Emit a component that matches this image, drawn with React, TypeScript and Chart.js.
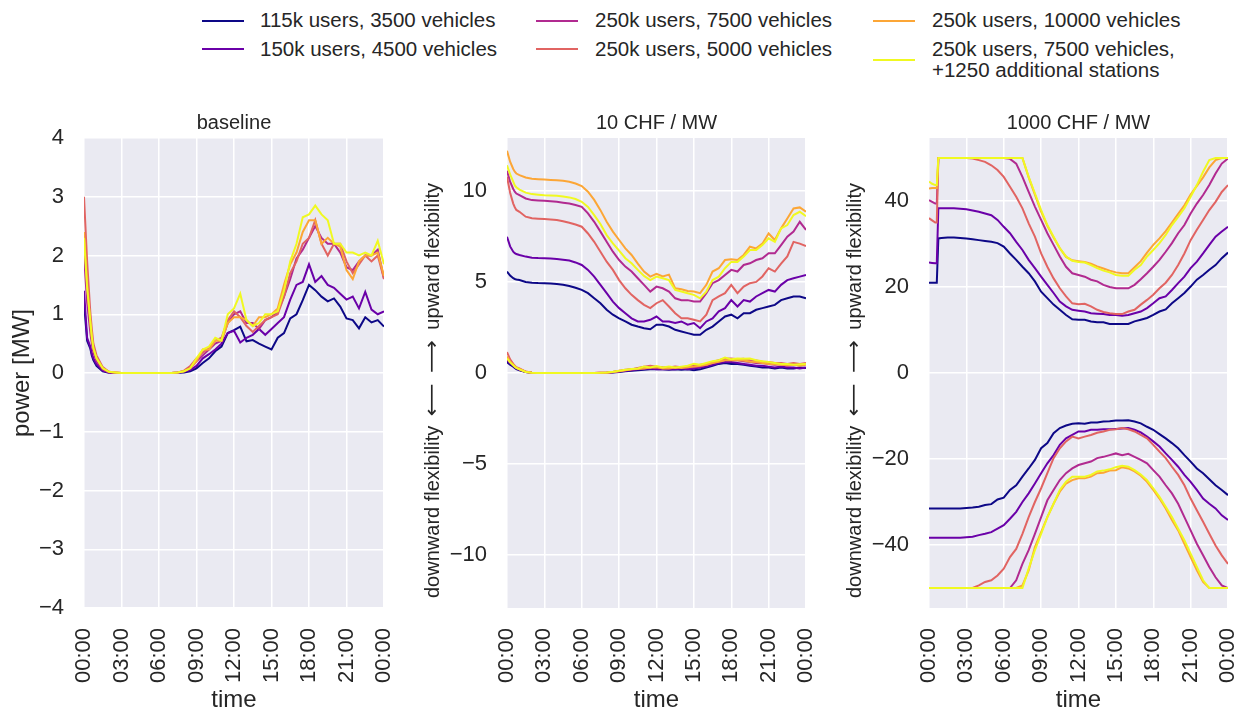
import React, { useEffect, useRef } from 'react';
import { Chart, registerables } from 'chart.js';

Chart.register(...registerables);

const FONT = '"Liberation Sans", Arial, Helvetica, sans-serif';
const ARROW_FONT = '"DejaVu Sans", sans-serif';
const TEXT = '#262626';

// ---------- data ----------
const HOURS = [0, 0.25, 0.5, 0.625, 0.75, 1,
  1.5, 2, 2.5, 3, 3.5, 4, 4.5, 5, 5.5, 6,
  6.5, 7, 7.5, 8, 8.5, 9, 9.5, 10, 10.5, 11,
  11.5, 12, 12.5, 13, 13.5, 14, 14.5, 15, 15.5, 16,
  16.5, 17, 17.5, 18, 18.5, 19, 19.5, 20, 20.5, 21,
  21.5, 22, 22.5, 23, 23.5, 24];

const X_TICK_HOURS = [0, 3, 6, 9, 12, 15, 18, 21, 24];
const X_TICK_LABELS = ['00:00', '03:00', '06:00', '09:00', '12:00', '15:00', '18:00', '21:00', '00:00'];

const BASE_Y_TICKS = [-4, -3, -2, -1, 0, 1, 2, 3, 4];
const P10_Y_TICKS = [-10, -5, 0, 5, 10];
const P1000_Y_TICKS = [-40, -20, 0, 20, 40];

const SERIES_LABELS = [
  '115k users, 3500 vehicles',
  '150k users, 4500 vehicles',
  '250k users, 7500 vehicles',
  '250k users, 5000 vehicles',
  '250k users, 10000 vehicles',
  '250k users, 7500 vehicles,\n+1250 additional stations',
];
const SERIES_COLORS = ['#0d0887', '#6a00a8', '#b12a90', '#e16462', '#fca636', '#f0f921'];

// baseline
const BASE_115 = [1.2, 0.55, 0.42, 0.3, 0.22, 0.12,
  0.03, 0.005, 0, 0, 0, 0, 0, 0, 0, 0,
  0, 0, 0.005, 0.01, 0.03, 0.08, 0.17, 0.25, 0.37, 0.45,
  0.68, 0.73, 0.79, 0.54, 0.56, 0.5, 0.45, 0.4, 0.6, 0.68,
  0.93, 1.0, 1.24, 1.5, 1.41, 1.3, 1.22, 1.27, 1.13, 0.93,
  0.9, 0.76, 0.95, 0.86, 0.9, 0.79];
const BASE_150 = [1.4, 0.6, 0.45, 0.33, 0.25, 0.15,
  0.04, 0.01, 0, 0, 0, 0, 0, 0, 0, 0,
  0, 0, 0.005, 0.02, 0.05, 0.12, 0.25, 0.32, 0.4, 0.5,
  0.68, 0.72, 0.52, 0.6, 0.65, 0.75, 0.65, 0.75, 0.85, 0.95,
  1.25, 1.5, 1.55, 1.85, 1.55, 1.65, 1.5, 1.45, 1.35, 1.25,
  1.3, 1.1, 1.38, 1.08, 1.0, 1.05];
const BASE_7500 = [2.0, 1.2, 0.7, 0.5, 0.35, 0.2,
  0.06, 0.01, 0.005, 0, 0, 0, 0, 0, 0, 0,
  0, 0, 0.01, 0.03, 0.08, 0.2, 0.3, 0.4, 0.5, 0.55,
  0.85, 1.0, 1.05, 0.85, 0.85, 0.75, 0.9, 0.95, 1.05, 1.3,
  1.6, 1.95, 2.1, 2.3, 2.5, 2.3, 2.2, 2.2, 2.05, 1.8,
  1.75, 1.9, 2.0, 2.0, 2.1, 1.6];
const BASE_5000 = [3.0, 1.9, 1.05, 0.75, 0.5, 0.3,
  0.1, 0.02, 0.01, 0, 0, 0, 0, 0, 0, 0,
  0, 0, 0.01, 0.04, 0.12, 0.25, 0.35, 0.42, 0.55, 0.6,
  0.9, 1.05, 0.95, 0.8, 0.7, 0.8, 0.9, 0.95, 1.0, 1.3,
  1.7, 1.9, 2.2, 2.3, 2.6, 2.2, 2.0, 2.2, 2.2, 1.9,
  1.7, 1.85, 2.0, 1.9, 2.0, 1.6];
const BASE_10000 = [2.4, 1.5, 0.85, 0.6, 0.42, 0.25,
  0.08, 0.02, 0.01, 0, 0, 0, 0, 0, 0, 0,
  0, 0, 0.01, 0.03, 0.08, 0.2, 0.4, 0.4, 0.55, 0.55,
  0.85, 0.95, 0.95, 0.9, 0.8, 0.95, 0.95, 1.0, 1.1, 1.5,
  1.85, 2.05, 2.4, 2.6, 2.6, 2.2, 2.3, 2.2, 2.15, 1.75,
  1.6, 1.9, 2.0, 2.0, 2.05, 1.65];
const BASE_EXTRA = [2.3, 1.45, 0.9, 0.62, 0.42, 0.25,
  0.08, 0.02, 0.01, 0, 0, 0, 0, 0, 0, 0,
  0, 0, 0.01, 0.03, 0.08, 0.25, 0.4, 0.45, 0.6, 0.55,
  1.0, 1.1, 1.35, 0.9, 0.8, 0.85, 1.0, 1.0, 1.05, 1.4,
  1.9, 2.2, 2.65, 2.7, 2.85, 2.7, 2.6, 2.2, 2.2, 2.05,
  2.05, 2.0, 2.05, 2.0, 2.25, 1.85];

// 10 CHF / MW - upward
const P10_UP_115 = [5.57, 5.35, 5.2, 5.16, 5.13, 5.1,
  5.0, 4.96, 4.94, 4.93, 4.91, 4.89, 4.85, 4.78, 4.68, 4.56,
  4.38, 4.1, 3.83, 3.47, 3.2, 3.0, 2.83, 2.65, 2.55, 2.46,
  2.4, 2.65, 2.65, 2.55, 2.37, 2.28, 2.19, 2.1, 2.1, 2.37,
  2.55, 2.83, 3.1, 3.2, 3.0, 3.28, 3.28, 3.47, 3.56, 3.65,
  3.74, 4.0, 4.1, 4.2, 4.2, 4.1];
const P10_UP_150 = [7.48, 6.95, 6.66, 6.58, 6.53, 6.48,
  6.39, 6.33, 6.31, 6.3, 6.28, 6.26, 6.22, 6.17, 6.07, 5.93,
  5.66, 5.29, 4.84, 4.38, 3.92, 3.56, 3.28, 3.0, 2.83, 2.83,
  2.92, 3.1, 2.83, 2.83, 2.74, 2.83, 2.65, 2.74, 2.46, 2.83,
  3.0, 3.38, 3.56, 4.0, 3.65, 4.0, 3.92, 4.2, 4.38, 4.56,
  4.47, 4.84, 5.1, 5.2, 5.29, 5.38];
const P10_UP_7500 = [11.1, 10.5, 10.1, 9.95, 9.85, 9.76,
  9.58, 9.49, 9.47, 9.45, 9.43, 9.4, 9.35, 9.3, 9.22, 9.12,
  8.76, 8.3, 7.76, 7.2, 6.66, 6.2, 5.84, 5.57, 5.2, 4.84,
  4.47, 4.74, 4.65, 4.47, 4.1, 4.0, 4.0, 3.92, 3.92, 4.38,
  4.93, 5.1, 5.38, 5.66, 5.57, 5.93, 6.02, 6.2, 6.3, 6.57,
  6.57, 7.02, 7.48, 7.76, 8.3, 7.85];
const P10_UP_5000 = [10.77, 9.9, 9.3, 9.1, 8.95, 8.85,
  8.58, 8.49, 8.47, 8.45, 8.43, 8.4, 8.33, 8.25, 8.15, 8.03,
  7.66, 7.2, 6.66, 6.11, 5.66, 5.1, 4.65, 4.29, 4.0, 3.74,
  3.56, 3.83, 4.0, 3.65, 3.28, 3.0, 3.0, 2.92, 2.83, 3.2,
  4.0, 4.2, 4.38, 4.84, 4.38, 4.74, 4.93, 5.0, 5.3, 5.75,
  5.57, 6.0, 6.4, 7.2, 7.1, 6.97];
const P10_UP_10000 = [12.2, 11.6, 11.2, 11.05, 10.95, 10.86,
  10.73, 10.66, 10.64, 10.62, 10.6, 10.58, 10.55, 10.5, 10.4, 10.26,
  9.95, 9.5, 8.94, 8.3, 7.76, 7.3, 6.84, 6.48, 6.0, 5.57,
  5.29, 5.44, 5.3, 5.4, 4.65, 4.6, 4.5, 4.47, 4.38, 4.84,
  5.57, 5.75, 6.2, 6.24, 6.2, 6.48, 6.93, 6.84, 7.1, 7.66,
  7.3, 7.94, 8.48, 9.03, 9.09, 8.85];
const P10_UP_EXTRA = [11.4, 10.9, 10.5, 10.3, 10.2, 10.07,
  9.9, 9.82, 9.79, 9.76, 9.75, 9.73, 9.69, 9.64, 9.55, 9.4,
  9.12, 8.67, 8.18, 7.57, 7.12, 6.72, 6.3, 6.02, 5.66, 5.33,
  5.1, 5.29, 5.2, 5.1, 4.56, 4.47, 4.38, 4.29, 4.1, 4.47,
  5.1, 5.29, 5.75, 6.1, 6.1, 6.39, 6.75, 6.75, 7.02, 7.39,
  7.2, 7.94, 8.12, 8.67, 8.85, 8.61];

// 10 CHF / MW - downward
const P10_DOWN_115 = [0.6, 0.45, 0.35, 0.28, 0.22, 0.15,
  0.05, 0.01, 0, 0, 0, 0, 0, 0, 0, 0,
  0, 0, 0, 0.01, 0.03, 0.06, 0.1, 0.12, 0.15, 0.18,
  0.2, 0.22, 0.2, 0.18, 0.2, 0.18, 0.2, 0.15, 0.2, 0.3,
  0.4, 0.5, 0.55, 0.5, 0.5, 0.45, 0.4, 0.35, 0.3, 0.3,
  0.25, 0.3, 0.25, 0.25, 0.3, 0.28];
const P10_DOWN_150 = [0.7, 0.52, 0.4, 0.32, 0.25, 0.18,
  0.06, 0.01, 0, 0, 0, 0, 0, 0, 0, 0,
  0, 0, 0, 0.01, 0.04, 0.08, 0.12, 0.15, 0.2, 0.22,
  0.25, 0.2, 0.2, 0.22, 0.2, 0.25, 0.2, 0.25, 0.3, 0.35,
  0.45, 0.55, 0.6, 0.6, 0.55, 0.5, 0.45, 0.4, 0.4, 0.35,
  0.3, 0.35, 0.3, 0.3, 0.25, 0.3];
const P10_DOWN_7500 = [0.8, 0.6, 0.45, 0.36, 0.28, 0.2,
  0.07, 0.02, 0, 0, 0, 0, 0, 0, 0, 0,
  0, 0, 0.01, 0.02, 0.05, 0.1, 0.15, 0.2, 0.25, 0.3,
  0.32, 0.3, 0.28, 0.3, 0.28, 0.3, 0.3, 0.32, 0.35, 0.45,
  0.55, 0.65, 0.7, 0.72, 0.7, 0.65, 0.6, 0.55, 0.55, 0.5,
  0.45, 0.5, 0.4, 0.45, 0.45, 0.5];
const P10_DOWN_5000 = [1.15, 0.75, 0.5, 0.4, 0.32, 0.25,
  0.08, 0.02, 0, 0, 0, 0, 0, 0, 0, 0,
  0, 0, 0.01, 0.02, 0.05, 0.12, 0.18, 0.2, 0.28, 0.35,
  0.4, 0.35, 0.32, 0.3, 0.35, 0.32, 0.35, 0.4, 0.45, 0.5,
  0.6, 0.7, 0.78, 0.8, 0.75, 0.78, 0.7, 0.68, 0.62, 0.6,
  0.55, 0.55, 0.5, 0.55, 0.5, 0.55];
const P10_DOWN_10000 = [0.9, 0.62, 0.45, 0.36, 0.3, 0.22,
  0.07, 0.02, 0, 0, 0, 0, 0, 0, 0, 0,
  0, 0, 0.01, 0.02, 0.05, 0.1, 0.15, 0.2, 0.22, 0.25,
  0.3, 0.32, 0.25, 0.25, 0.3, 0.28, 0.32, 0.35, 0.4, 0.45,
  0.55, 0.62, 0.7, 0.72, 0.7, 0.68, 0.62, 0.6, 0.55, 0.5,
  0.48, 0.45, 0.42, 0.45, 0.4, 0.45];
const P10_DOWN_EXTRA = [0.8, 0.58, 0.42, 0.34, 0.28, 0.2,
  0.06, 0.02, 0, 0, 0, 0, 0, 0, 0, 0,
  0, 0, 0.01, 0.03, 0.07, 0.12, 0.18, 0.22, 0.25, 0.35,
  0.3, 0.38, 0.3, 0.35, 0.3, 0.35, 0.4, 0.5, 0.45, 0.55,
  0.65, 0.7, 0.85, 0.75, 0.8, 0.78, 0.8, 0.7, 0.65, 0.6,
  0.55, 0.5, 0.5, 0.45, 0.48, 0.5];

// 1000 CHF / MW - upward
const P1000_UP_115 = [21, 21, 21, 21, 31.3, 31.4,
  31.5, 31.5, 31.4, 31.3, 31.1, 30.9, 30.7, 30.5, 30.2, 29.4,
  27.8, 26.3, 24.7, 23.2, 21.3, 18.9, 17.4, 15.9, 14.7, 13.5,
  12.5, 12.4, 12.4, 12.0, 11.8, 11.8, 11.4, 11.4, 11.4, 11.4,
  12.0, 12.4, 12.8, 13.5, 14.3, 14.8, 16.2, 17.4, 18.6, 20.1,
  21.7, 22.8, 24.0, 25.1, 26.7, 28.0];
const P1000_UP_150 = [25.7, 25.6, 25.5, 25.5, 38.3, 38.3,
  38.3, 38.3, 38.2, 38.1, 37.8, 37.5, 37.1, 36.7, 35.6, 34.0,
  32.5, 30.5, 28.6, 26.3, 24.4, 22.4, 20.5, 18.6, 16.6, 15.5,
  14.7, 14.5, 14.3, 13.9, 13.8, 13.7, 13.5, 13.5, 13.3, 13.5,
  13.9, 14.3, 15.1, 16.2, 17.4, 17.8, 19.3, 20.9, 22.4, 24.4,
  25.9, 27.8, 29.8, 31.7, 32.9, 34.0];
const P1000_UP_7500 = [40.2, 39.8, 39.4, 39.4, 50, 50,
  50, 50, 50, 50, 50, 50, 50, 50, 50, 50,
  49.8, 48.7, 45.6, 42.1, 38.7, 35.6, 32.5, 29.8, 27.1, 24.7,
  23.2, 22.8, 22.4, 21.7, 21.3, 20.5, 20.0, 19.7, 19.7, 19.7,
  20.5, 21.8, 23.2, 24.7, 26.3, 28.2, 30.2, 32.5, 34.4, 37.1,
  39.4, 41.4, 43.7, 46.4, 48.7, 49.9];
const P1000_UP_5000 = [36, 35.5, 35, 35, 50, 50,
  50, 50, 50, 50, 49.9, 49.5, 49.1, 48.3, 47.2, 45.6,
  43.3, 41.0, 38.3, 34.8, 31.7, 27.8, 24.7, 22.0, 19.7, 17.8,
  16.2, 16.0, 16.1, 15.5, 14.7, 14.2, 13.9, 13.7, 13.7, 14.3,
  14.7, 15.9, 17.0, 18.2, 19.7, 21.0, 22.8, 25.1, 27.8, 30.9,
  33.3, 35.6, 37.9, 39.8, 42.1, 43.7];
const P1000_UP_10000 = [42.9, 43, 43, 43, 50, 50,
  50, 50, 50, 50, 50, 50, 50, 50, 50, 50,
  50, 50, 50, 45.5, 41.5, 37.5, 34.2, 31.5, 29.0, 27.0,
  26.2, 26.0, 25.8, 25.4, 24.8, 24.3, 23.8, 23.4, 23.2, 23.2,
  24.6, 26.0, 28.0, 29.8, 31.3, 33.0, 35.0, 37.0, 39.0, 41.5,
  43.5, 45.5, 47.8, 49.5, 50, 50];
const P1000_UP_EXTRA = [44.5, 44, 43.7, 43.7, 50, 50,
  50, 50, 50, 50, 50, 50, 50, 50, 50, 50,
  50, 50, 50, 45.6, 41.8, 37.9, 34.4, 31.7, 29.0, 27.1,
  26.1, 25.8, 25.7, 25.1, 24.4, 23.8, 23.4, 22.8, 22.6, 22.6,
  24.0, 25.1, 27.1, 28.6, 30.2, 32.1, 34.4, 36.3, 38.3, 41.0,
  43.7, 46.8, 49.5, 50, 50, 50];

// 1000 CHF / MW - downward
const P1000_DOWN_115 = [-31.5, -31.5, -31.5, -31.5, -31.5, -31.5,
  -31.5, -31.5, -31.5, -31.4, -31.3, -31.1, -30.7, -30.5, -29.4, -29.0,
  -27.2, -26.1, -24.1, -22.2, -20.2, -17.5, -16.3, -14.0, -12.8, -12.2,
  -11.8, -11.7, -11.8, -11.5, -11.5, -11.3, -11.2, -11.05, -11.05, -11.0,
  -11.3, -11.7, -12.5, -13.2, -14.2, -15.2, -16.3, -17.5, -19.1, -20.6,
  -22.2, -23.3, -24.7, -26.1, -27.2, -28.4];
const P1000_DOWN_150 = [-38.3, -38.3, -38.3, -38.3, -38.3, -38.3,
  -38.3, -38.3, -38.3, -38.2, -38.1, -37.7, -37.4, -37.0, -36.2, -35.4,
  -33.9, -32.3, -30.0, -28.0, -25.7, -23.3, -21.0, -19.1, -16.7, -15.2,
  -14.4, -13.6, -13.6, -13.2, -13.2, -13.1, -13.1, -13.0, -12.9, -12.8,
  -13.2, -13.8, -14.8, -15.9, -17.1, -18.7, -20.2, -21.8, -23.7, -25.3,
  -27.2, -29.2, -30.4, -31.5, -33.1, -34.2];
const P1000_DOWN_7500 = [-50, -50, -50, -50, -50, -50,
  -50, -50, -50, -50, -50, -50, -50, -50, -50, -50,
  -50, -48.2, -44.4, -41.2, -37.4, -33.5, -29.6, -27.2, -24.9, -23.3,
  -22.2, -21.4, -21.0, -20.6, -19.8, -19.5, -19.1, -18.7, -19.1, -18.8,
  -19.5, -20.2, -21.0, -22.6, -24.1, -26.1, -28.0, -30.4, -33.5, -36.6,
  -39.7, -42.4, -45.1, -47.5, -49.4, -50];
const P1000_DOWN_5000 = [-50, -50, -50, -50, -50, -50,
  -50, -50, -50, -50, -50, -49.4, -48.6, -48.2, -47.1, -45.5,
  -42.8, -40.9, -37.4, -33.5, -30.0, -26.8, -23.3, -19.8, -17.5, -15.9,
  -14.8, -15.2, -14.8, -14.4, -13.9, -13.6, -13.2, -13.1, -12.8, -13.1,
  -13.6, -14.4, -15.2, -16.7, -18.3, -19.8, -21.8, -23.7, -26.1, -29.2,
  -31.9, -34.6, -37.4, -40.1, -42.4, -44.4];
const P1000_DOWN_10000 = [-50, -50, -50, -50, -50, -50,
  -50, -50, -50, -50, -50, -50, -50, -50, -50, -50,
  -50, -50, -49.4, -45.9, -40.5, -37.0, -33.5, -30.4, -27.6, -25.7,
  -24.9, -24.5, -24.5, -24.1, -23.3, -23.2, -22.7, -22.6, -21.9, -22.2,
  -22.9, -23.9, -25.3, -27.2, -29.2, -31.5, -34.2, -36.6, -39.7, -42.8,
  -45.9, -48.6, -50, -50, -50, -50];
const P1000_DOWN_EXTRA = [-50, -50, -50, -50, -50, -50,
  -50, -50, -50, -50, -50, -50, -50, -50, -50, -50,
  -50, -50, -50, -45.5, -41.2, -37.4, -33.5, -30.4, -27.2, -25.3,
  -24.1, -24.1, -24.1, -23.7, -22.9, -22.7, -22.4, -21.9, -21.6, -21.8,
  -22.6, -23.6, -24.9, -26.8, -28.8, -31.1, -33.5, -36.2, -38.9, -42.0,
  -45.1, -48.2, -50, -50, -50, -50];

const BASELINE_SERIES = [BASE_115, BASE_150, BASE_7500, BASE_5000, BASE_10000, BASE_EXTRA];
const P10_SERIES = [
  [P10_UP_115, P10_DOWN_115], [P10_UP_150, P10_DOWN_150], [P10_UP_7500, P10_DOWN_7500],
  [P10_UP_5000, P10_DOWN_5000], [P10_UP_10000, P10_DOWN_10000], [P10_UP_EXTRA, P10_DOWN_EXTRA],
];
const P1000_SERIES = [
  [P1000_UP_115, P1000_DOWN_115], [P1000_UP_150, P1000_DOWN_150], [P1000_UP_7500, P1000_DOWN_7500],
  [P1000_UP_5000, P1000_DOWN_5000], [P1000_UP_10000, P1000_DOWN_10000], [P1000_UP_EXTRA, P1000_DOWN_EXTRA],
];

// ---------- drawing helpers ----------
const decorPlugin: any = {
  id: 'decor',
  beforeDraw(chart: any) {
    const { ctx, chartArea: a } = chart;
    ctx.save();
    ctx.fillStyle = '#eaeaf2';
    ctx.fillRect(a.left, a.top, a.right - a.left, a.bottom - a.top);
    ctx.restore();
  },
  afterDraw(chart: any, _args: any, opts: any) {
    const { ctx, chartArea: a } = chart;
    const cx = (a.left + a.right) / 2;
    ctx.save();
    ctx.fillStyle = TEXT;
    ctx.textBaseline = 'alphabetic';
    ctx.textAlign = 'center';
    ctx.font = `20px ${FONT}`;
    ctx.fillText(opts.title, cx, a.top - 9);
    ctx.font = `24px ${FONT}`;
    ctx.fillText('time', cx, 707);
    opts.ylabelParts.forEach((part: any) => {
      ctx.save();
      ctx.font = `${part.size}px ${part.family || FONT}`;
      ctx.translate(opts.ylabelX + (part.dx || 0), part.y);
      ctx.rotate(-Math.PI / 2);
      ctx.scale(part.sx || 1, 1);
      ctx.textAlign = part.align;
      ctx.fillText(part.text, 0, 0);
      ctx.restore();
    });
    ctx.restore();
  },
};

function makeDatasets(groups: number[][][]) {
  const out: any[] = [];
  groups.forEach((arrs, i) => {
    arrs.forEach((arr) => {
      out.push({
        data: HOURS.map((h, k) => ({ x: h, y: arr[k] })),
        borderColor: SERIES_COLORS[i],
        backgroundColor: SERIES_COLORS[i],
        borderWidth: 2,
        pointRadius: 0,
        tension: 0,
        fill: false,
        order: 10 - i,
      });
    });
  });
  return out;
}

type PanelProps = {
  left: number; width: number; yWidth: number; padRight: number;
  yMin: number; yMax: number; yTicks: number[];
  groups: number[][][];
  title: string; ylabelParts: any[]; ylabelX: number;
};

function Panel(p: PanelProps) {
  const ref = useRef<HTMLCanvasElement>(null);
  useEffect(() => {
    const tickFont = { family: FONT, size: 22 };
    const grid = { color: '#ffffff', lineWidth: 1.5, drawTicks: false };
    const chart = new Chart(ref.current as HTMLCanvasElement, {
      type: 'line',
      data: { datasets: makeDatasets(p.groups) },
      plugins: [decorPlugin],
      options: {
        animation: false,
        responsive: true,
        maintainAspectRatio: false,
        devicePixelRatio: 1,
        layout: { padding: { top: 138, right: p.padRight, bottom: 0, left: 0 } },
        plugins: {
          legend: { display: false },
          tooltip: { enabled: false },
          decor: { title: p.title, ylabelParts: p.ylabelParts, ylabelX: p.ylabelX },
        },
        scales: {
          x: {
            type: 'linear', min: 0, max: 24,
            afterBuildTicks: (s: any) => { s.ticks = X_TICK_HOURS.map((v) => ({ value: v })); },
            afterFit: (s: any) => { s.height = 103; s.paddingLeft = 0; s.paddingRight = 0; },
            grid, border: { display: false },
            ticks: {
              autoSkip: false, maxRotation: 90, minRotation: 90, padding: 20, color: TEXT, font: tickFont,
              callback: (_v: any, i: number) => X_TICK_LABELS[i],
            },
          },
          y: {
            type: 'linear', min: p.yMin, max: p.yMax,
            afterBuildTicks: (s: any) => { s.ticks = p.yTicks.map((v) => ({ value: v })); },
            afterFit: (s: any) => { s.width = p.yWidth; s.paddingTop = 0; s.paddingBottom = 0; },
            grid, border: { display: false },
            ticks: {
              autoSkip: false, padding: 20, color: TEXT, font: tickFont,
              callback: (v: any) => String(v).replace('-', '\u2212'),
            },
          },
        },
      } as any,
    } as any);
    return () => chart.destroy();
  }, []);
  return (
    <div style={{ position: 'absolute', left: p.left, top: 0, width: p.width, height: 711 }}>
      <canvas ref={ref} />
    </div>
  );
}

// legend layout (pixel positions of columns/rows)
const LEGEND_MARKER_X = [202, 536, 873];
const LEGEND_TEXT_X = [260, 595, 932];
const LEGEND_ROW_BASELINE = [27.3, 56];
const LEGEND_LINE_GAP = 21.5;

function Legend() {
  const items: any[] = [];
  SERIES_LABELS.forEach((label, i) => {
    const col = Math.floor(i / 2);
    const row = i % 2;
    const lines = label.split('\n');
    const base = LEGEND_ROW_BASELINE[row];
    const markerY = base - 6.8 + ((lines.length - 1) * LEGEND_LINE_GAP) / 2;
    items.push(
      <div key={'m' + i} style={{
        position: 'absolute', left: LEGEND_MARKER_X[col], top: markerY - 1, width: 42, height: 2,
        background: SERIES_COLORS[i],
      }} />
    );
    lines.forEach((ln, j) => {
      items.push(
        <div key={'t' + i + '_' + j} style={{
          position: 'absolute', left: LEGEND_TEXT_X[col], top: base + j * LEGEND_LINE_GAP - 18.1,
          font: `20.5px ${FONT}`, lineHeight: '22px', color: TEXT, whiteSpace: 'pre',
        }}>{ln}</div>
      );
    });
  });
  return <>{items}</>;
}

const FLEX_PARTS = [
  { text: 'downward flexibility', y: 598, align: 'left', size: 20 },
  { text: '\u27F5', y: 400, align: 'center', size: 20, family: ARROW_FONT, dx: -1, sx: 1.15 },
  { text: '\u27F6', y: 356.5, align: 'center', size: 20, family: ARROW_FONT, dx: -1, sx: 1.15 },
  { text: 'upward flexibility', y: 183, align: 'right', size: 20 },
];

export default function App() {
  return (
    <div style={{ position: 'absolute', left: 0, top: 0, width: 1243, height: 711, background: '#ffffff', overflow: 'hidden' }}>
      <Legend />
      <Panel left={0} width={400} yWidth={84} padRight={16} yMin={-4} yMax={4} yTicks={BASE_Y_TICKS}
        groups={BASELINE_SERIES.map((s) => [s])} title="baseline"
        ylabelParts={[{ text: 'power [MW]', y: 373, align: 'center', size: 24 }]} ylabelX={29} />
      <Panel left={414} width={406} yWidth={93} padRight={14} yMin={-12.9} yMax={12.9} yTicks={P10_Y_TICKS}
        groups={P10_SERIES} title="10 CHF / MW" ylabelParts={FLEX_PARTS} ylabelX={25} />
      <Panel left={836} width={407} yWidth={93} padRight={15} yMin={-54.65} yMax={54.65} yTicks={P1000_Y_TICKS}
        groups={P1000_SERIES} title="1000 CHF / MW" ylabelParts={FLEX_PARTS} ylabelX={25} />
    </div>
  );
}
